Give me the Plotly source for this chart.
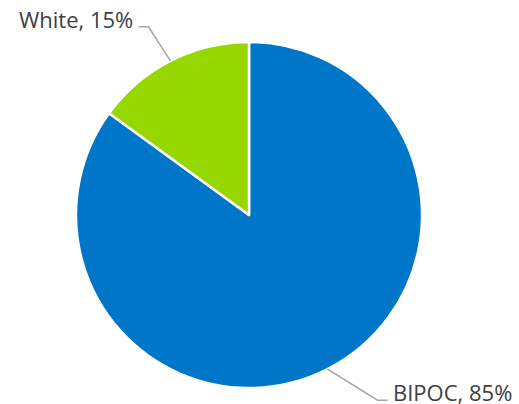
import math
import plotly.graph_objects as go

# Share of participants by group
groups = ["BIPOC", "White"]
shares = [85, 15]
colors = ["#0076C8", "#97D700"]

W, H = 519, 404
cx, cy, R = 249, 215, 173  # pie centre and radius in pixels

fig = go.Figure(go.Pie(
    labels=groups,
    values=shares,
    sort=False,
    direction="clockwise",
    rotation=0,
    marker=dict(colors=colors, line=dict(color="white", width=2.5)),
    textinfo="none",
    hoverinfo="label+percent",
    domain=dict(x=[(cx - R) / W, (cx + R) / W],
                y=[(H - cy - R) / H, (H - cy + R) / H]),
    showlegend=False,
))


def px(x, y):
    return x / W, 1 - y / H


total = sum(shares)
start = 0.0
shapes, annotations = [], []
for name, val in zip(groups, shares):
    frac = val / total
    mid = start + frac / 2
    start += frac
    # slices run clockwise from 12 o'clock
    ang = math.radians(90 - mid * 360)
    ex, ey = cx + R * math.cos(ang), cy - R * math.sin(ang)
    right = math.cos(ang) > 0
    if right:
        kx, ky = ex + 50, ey + 31
        hx = kx + 10
    else:
        kx, ky = ex - 22, ey - 34
        hx = kx - 10
    path = f"M {px(ex, ey)[0]},{px(ex, ey)[1]} L {px(kx, ky)[0]},{px(kx, ky)[1]} L {px(hx, ky)[0]},{px(hx, ky)[1]}"
    shapes.append(dict(type="path", xref="paper", yref="paper", path=path,
                       line=dict(color="#A6A6A6", width=1.5)))
    tx, ty = px(hx + (3 if right else -3), ky - 8)
    annotations.append(dict(
        x=tx, y=ty, xref="paper", yref="paper",
        text=f"{name}, {val}%", showarrow=False,
        xanchor="left" if right else "right", yanchor="middle",
        font=dict(family="Open Sans, Noto Sans, sans-serif", size=22, color="#404040"),
    ))

fig.update_layout(
    width=W, height=H,
    margin=dict(l=0, r=0, t=0, b=0),
    paper_bgcolor="white", plot_bgcolor="white",
    shapes=shapes, annotations=annotations,
)

fig.write_html("out.html")
